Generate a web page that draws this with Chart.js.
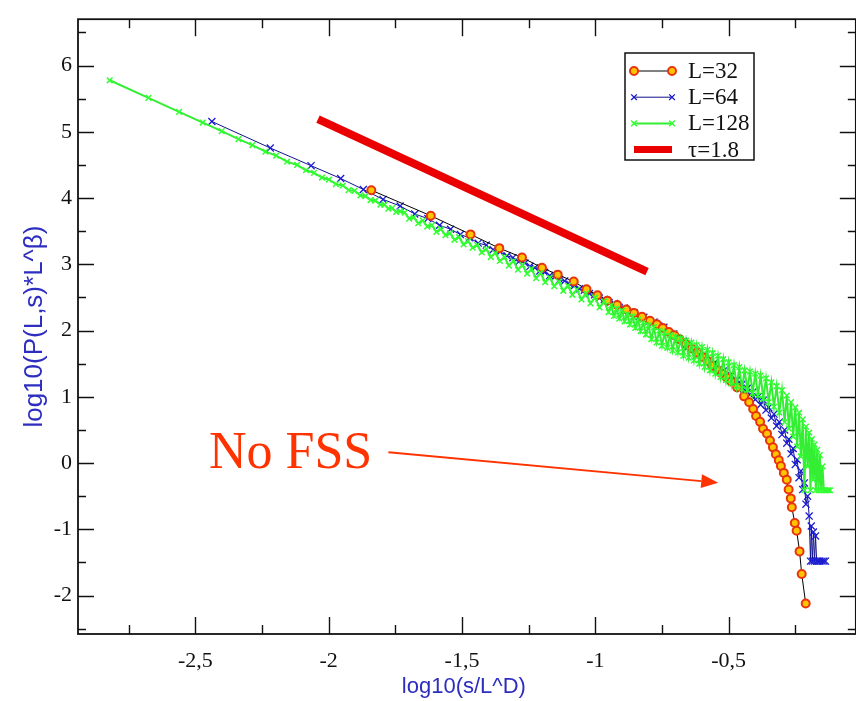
<!DOCTYPE html>
<html>
<head>
<meta charset="utf-8">
<script src="https://cdn.jsdelivr.net/npm/chart.js@4.4.1/dist/chart.umd.min.js"></script>
<style>
  html, body { margin: 0; padding: 0; background: #fff; overflow: hidden; }
</style>
</head>
<body>
<canvas id="chart" width="856" height="701"></canvas>
<script>
// L=32
const l32X = [-1.840, -1.617, -1.468, -1.360, -1.275, -1.200, -1.141, -1.081, -1.033, -0.992,
  -0.955, -0.918, -0.884, -0.855, -0.825, -0.795, -0.769, -0.747, -0.724, -0.704,
  -0.684, -0.661, -0.639, -0.618, -0.598, -0.579, -0.561, -0.542, -0.524, -0.507,
  -0.490, -0.468, -0.442, -0.423, -0.408, -0.397, -0.382, -0.371, -0.356, -0.345,
  -0.334, -0.323, -0.312, -0.304, -0.293, -0.282, -0.275, -0.267, -0.263, -0.252,
  -0.245, -0.234, -0.226, -0.211]
const l32Y = [4.119, 3.733, 3.452, 3.244, 3.104, 2.948, 2.844, 2.741, 2.622, 2.533,
  2.452, 2.385, 2.319, 2.267, 2.207, 2.148, 2.096, 2.037, 1.978, 1.93,
  1.87, 1.80, 1.73, 1.67, 1.60, 1.54, 1.47, 1.40, 1.35, 1.29,
  1.230, 1.141, 1.007, 0.919, 0.815, 0.711, 0.622, 0.519, 0.444, 0.341,
  0.237, 0.133, 0.044, -0.044, -0.148, -0.252, -0.400, -0.533, -0.667, -0.904,
  -1.022, -1.333, -1.674, -2.119]

// L=64
const l64X = [-2.438, -2.219, -2.066, -1.955, -1.870, -1.796, -1.732, -1.677, -1.628, -1.584,
  -1.543, -1.506, -1.472, -1.439, -1.409, -1.383, -1.357, -1.331, -1.309, -1.287,
  -1.264, -1.245, -1.227, -1.208, -1.190, -1.171, -1.152, -1.134, -1.115, -1.096,
  -1.078, -1.059, -1.041, -1.022, -1.003, -0.985, -0.966, -0.948, -0.929, -0.910,
  -0.892, -0.873, -0.855, -0.836, -0.818, -0.799, -0.780, -0.762, -0.743, -0.725,
  -0.706, -0.687, -0.669, -0.650, -0.632, -0.613, -0.595, -0.576, -0.557, -0.539,
  -0.520, -0.502,
  -0.490, -0.480, -0.470, -0.460, -0.450, -0.440, -0.430, -0.420, -0.410, -0.400,
  -0.390, -0.380, -0.370, -0.360, -0.350, -0.340, -0.330, -0.320, -0.310, -0.300,
  -0.290, -0.282, -0.274, -0.266, -0.258, -0.250, -0.243, -0.236, -0.229, -0.222,
  -0.216, -0.210, -0.204, -0.198, -0.193, -0.190, -0.186, -0.182, -0.178, -0.174,
  -0.170, -0.165, -0.158, -0.150, -0.143, -0.137]
const l64Y = [5.156, 4.756, 4.489, 4.296, 4.13, 3.98, 3.88, 3.76, 3.69, 3.59,
  3.53, 3.45, 3.40, 3.32, 3.29, 3.22, 3.19, 3.13, 3.10, 3.04,
  3.02, 2.97, 2.95, 2.90, 2.88, 2.83, 2.81, 2.77, 2.75, 2.70,
  2.68, 2.63, 2.61, 2.56, 2.54, 2.49, 2.47, 2.42, 2.41, 2.35,
  2.34, 2.28, 2.27, 2.21, 2.20, 2.14, 2.13, 2.07, 2.05, 1.97,
  1.95, 1.87, 1.84, 1.76, 1.73, 1.65, 1.62, 1.54, 1.50, 1.41,
  1.39, 1.31,
  1.32, 1.24, 1.25, 1.17, 1.19, 1.10, 1.13, 1.03, 1.07, 0.96,
  1.00, 0.88, 0.95, 0.80, 0.84, 0.68, 0.74, 0.56, 0.62, 0.43,
  0.50, 0.30, 0.36, 0.14, 0.22, -0.02, 0.05, -0.22, -0.12, -0.40,
  -0.30, -0.62, -0.50, -0.80, -1.48, -0.95, -1.48, -1.04, -1.48, -1.10,
  -1.48, -1.48, -1.48, -1.48, -1.48, -1.48]

// L=128
const l128X = [-2.821, -2.676, -2.561, -2.472, -2.401, -2.338, -2.286, -2.237, -2.197, -2.156,
  -2.118, -2.085, -2.055, -2.025, -1.999, -1.973, -1.947, -1.925, -1.903, -1.881,
  -1.862, -1.843, -1.825, -1.806, -1.791, -1.776, -1.762, -1.747, -1.732,
  -1.715, -1.698, -1.681, -1.664, -1.647, -1.630, -1.613, -1.596, -1.579, -1.562,
  -1.545, -1.528, -1.511, -1.494, -1.477, -1.460, -1.443, -1.426, -1.409, -1.392,
  -1.375, -1.358, -1.341, -1.324, -1.307, -1.290, -1.273, -1.256, -1.239, -1.222,
  -1.205, -1.188, -1.171, -1.154, -1.137, -1.120, -1.103, -1.086, -1.069, -1.052,
  -1.035, -1.018, -1.001, -0.984, -0.967, -0.950,
  -0.94, -0.93, -0.92, -0.91, -0.90, -0.89, -0.88, -0.87, -0.86, -0.85,
  -0.84, -0.83, -0.82, -0.81, -0.80, -0.79, -0.78, -0.77, -0.76, -0.75,
  -0.74, -0.73, -0.72, -0.71, -0.70, -0.69, -0.68, -0.67, -0.66, -0.65,
  -0.64, -0.63, -0.62, -0.61, -0.60, -0.59, -0.58, -0.57, -0.56, -0.55,
  -0.54, -0.53, -0.52, -0.51, -0.50, -0.49, -0.48, -0.47, -0.46, -0.45,
  -0.44, -0.43, -0.42, -0.41, -0.40, -0.39, -0.38, -0.37, -0.36, -0.35,
  -0.34, -0.33, -0.32, -0.31, -0.30, -0.29, -0.282, -0.274, -0.266, -0.258,
  -0.250, -0.243, -0.236, -0.229, -0.222, -0.216, -0.210, -0.204, -0.198, -0.193,
  -0.188, -0.183, -0.178, -0.173, -0.168, -0.163, -0.158, -0.153, -0.148, -0.143,
  -0.138, -0.132, -0.126, -0.120]
const l128Y = [5.778, 5.513, 5.30, 5.14, 5.01, 4.89, 4.80, 4.70, 4.64, 4.55,
  4.50, 4.42, 4.38, 4.31, 4.28, 4.21, 4.19, 4.12, 4.11, 4.04,
  4.03, 3.97, 3.96, 3.90, 3.90, 3.84, 3.85, 3.79, 3.80,
  3.78, 3.69, 3.71, 3.62, 3.66, 3.57, 3.59, 3.49, 3.53, 3.44,
  3.47, 3.37, 3.41, 3.30, 3.35, 3.25, 3.29, 3.18, 3.23, 3.11,
  3.17, 3.05, 3.11, 2.98, 3.05, 2.92, 2.99, 2.86, 2.93, 2.79,
  2.87, 2.73, 2.80, 2.67, 2.74, 2.60, 2.68, 2.54, 2.62, 2.47,
  2.56, 2.41, 2.50, 2.35, 2.44, 2.28,
  2.38, 2.22, 2.33, 2.18, 2.30, 2.14, 2.25, 2.09, 2.21, 2.04,
  2.16, 1.99, 2.12, 1.94, 2.08, 1.87, 2.05, 1.82, 2.00, 1.77,
  1.97, 1.74, 1.93, 1.70, 1.91, 1.67, 1.88, 1.62, 1.85, 1.59,
  1.82, 1.55, 1.78, 1.50, 1.75, 1.45, 1.71, 1.40, 1.66, 1.35,
  1.62, 1.30, 1.57, 1.25, 1.52, 1.20, 1.48, 1.16, 1.45, 1.12,
  1.40, 1.10, 1.38, 1.06, 1.35, 1.02, 1.32, 0.97, 1.28, 0.92,
  1.22, 0.85, 1.16, 0.76, 1.10, 0.62, 1.02, 0.52, 0.92, 0.40,
  0.84, 0.25, 0.76, 0.10, 0.66, -0.41, 0.55, -0.05, 0.46, -0.41,
  0.36, -0.25, 0.28, -0.41, 0.20, -0.41, 0.12, -0.41, -0.05, -0.41,
  -0.41, -0.41, -0.41, -0.41]

// tau = 1.8 reference line
const tauX = [-2.040, -0.806]
const tauY = [5.19, 2.89]

const xTicks      = [-2.5, -2, -1.5, -1, -0.5]
const xMinorTicks = [-2.75, -2.25, -1.75, -1.25, -0.75, -0.25]
const yTicks      = [-2, -1, 0, 1, 2, 3, 4, 5, 6]
const yMinorTicks = [-2.5, -1.5, -0.5, 0.5, 1.5, 2.5, 3.5, 4.5, 5.5, 6.5]

// right edge of the plot frame sits just past the visible x range
const frameRight = -0.023

const noteText  = "No FSS"
const notePos   = { x: -2.449, y: -0.074 }
const arrowFrom = { x: -1.776, y: 0.163 }
const arrowTo   = { x: -0.539, y: -0.296 }

const pts = (xs, ys) => xs.map((x, i) => ({ x, y: ys[i] }))

const serif = "'Liberation Serif', 'Times New Roman', serif"
const sans  = "'Liberation Sans', Arial, sans-serif"
const axisBlue = "#2d2dc0"
const ink = "#111"

const frameTicks = {
  id: "frameTicks",
  beforeDatasetsDraw(chart) {
    const { ctx, chartArea: a, scales: { x, y } } = chart
    const right = x.getPixelForValue(frameRight)
    ctx.save()
    ctx.strokeStyle = ink
    ctx.lineWidth = 1.8
    ctx.strokeRect(a.left, a.top, right - a.left, a.bottom - a.top)
    ctx.lineWidth = 1.4
    ctx.beginPath()
    const xt = (vals, len) => vals.forEach(v => {
      const px = Math.round(x.getPixelForValue(v)) + 0.5
      ctx.moveTo(px, a.bottom); ctx.lineTo(px, a.bottom - len)
      ctx.moveTo(px, a.top);    ctx.lineTo(px, a.top + len)
    })
    const yt = (vals, len) => vals.forEach(v => {
      const py = Math.round(y.getPixelForValue(v)) + 0.5
      ctx.moveTo(a.left, py); ctx.lineTo(a.left + len, py)
      ctx.moveTo(right, py);  ctx.lineTo(right - len, py)
    })
    xt(xTicks, 17); xt(xMinorTicks, 9)
    yt(yTicks, 16); yt(yMinorTicks, 8)
    ctx.stroke()
    ctx.restore()
  }
}

const annotate = {
  id: "annotate",
  afterDraw(chart) {
    const { ctx, scales: { x, y } } = chart
    ctx.save()
    ctx.fillStyle = "#ff3300"
    ctx.strokeStyle = "#ff3300"
    ctx.font = `52px ${serif}`
    ctx.textBaseline = "alphabetic"
    ctx.fillText(noteText, x.getPixelForValue(notePos.x), y.getPixelForValue(notePos.y))

    const x0 = x.getPixelForValue(arrowFrom.x), y0 = y.getPixelForValue(arrowFrom.y)
    const x1 = x.getPixelForValue(arrowTo.x),   y1 = y.getPixelForValue(arrowTo.y)
    const ang = Math.atan2(y1 - y0, x1 - x0)
    const hl = 17, hw = 7
    const bx = x1 - hl * Math.cos(ang), by = y1 - hl * Math.sin(ang)
    ctx.lineWidth = 2
    ctx.beginPath(); ctx.moveTo(x0, y0); ctx.lineTo(bx, by); ctx.stroke()
    ctx.beginPath()
    ctx.moveTo(x1, y1)
    ctx.lineTo(bx + hw * Math.sin(ang), by - hw * Math.cos(ang))
    ctx.lineTo(bx - hw * Math.sin(ang), by + hw * Math.cos(ang))
    ctx.closePath(); ctx.fill()
    ctx.restore()
  }
}

const legendBox = {
  id: "legendBox",
  afterDraw(chart) {
    const ctx = chart.ctx
    const bx = 625, by = 53, bw = 129, bh = 107
    ctx.save()
    ctx.fillStyle = "#fff"
    ctx.fillRect(bx, by, bw, bh)
    ctx.strokeStyle = ink
    ctx.lineWidth = 1.5
    ctx.strokeRect(bx, by, bw, bh)
    chart.data.datasets.forEach((ds, i) => {
      const yy = 71 + i * 26.2
      ctx.strokeStyle = ds.borderColor
      ctx.lineWidth = Math.min(ds.borderWidth, 7)
      ctx.lineCap = "butt"
      ctx.beginPath(); ctx.moveTo(634, yy); ctx.lineTo(672, yy); ctx.stroke()
      if (ds.pointRadius > 0) {
        ;[634, 672].forEach(px => {
          ctx.fillStyle = ds.pointBackgroundColor
          ctx.strokeStyle = ds.pointBorderColor
          ctx.lineWidth = ds.pointBorderWidth
          Chart.helpers.drawPoint(ctx, { pointStyle: ds.pointStyle, radius: Math.min(ds.pointRadius, 4), borderWidth: ds.pointBorderWidth, rotation: 0 }, px, yy)
        })
      }
      ctx.fillStyle = ink
      ctx.font = `23px ${serif}`
      ctx.textBaseline = "middle"
      ctx.fillText(ds.label, 688, yy + 1)
    })
    ctx.restore()
  }
}

new Chart(document.getElementById("chart"), {
  type: "scatter",
  data: {
    datasets: [
      {
        label: "L=32",
        data: pts(l32X, l32Y),
        showLine: true,
        borderColor: "#000",
        borderWidth: 1,
        pointStyle: "circle",
        pointRadius: 4,
        pointBackgroundColor: "#ffc400",
        pointBorderColor: "#e8340c",
        pointBorderWidth: 2,
        order: 1
      },
      {
        label: "L=64",
        data: pts(l64X, l64Y),
        showLine: true,
        borderColor: "#12128a",
        borderWidth: 1,
        pointStyle: "crossRot",
        pointRadius: 5,
        pointBackgroundColor: "#1c1cd0",
        pointBorderColor: "#1c1cd0",
        pointBorderWidth: 1.3,
        order: 2
      },
      {
        label: "L=128",
        data: pts(l128X, l128Y),
        showLine: true,
        borderColor: "#33ee33",
        borderWidth: 2,
        pointStyle: "crossRot",
        pointRadius: 4,
        pointBackgroundColor: "#30ff30",
        pointBorderColor: "#30ff30",
        pointBorderWidth: 1.5,
        order: 0
      },
      {
        label: "τ=1.8",
        data: pts(tauX, tauY),
        showLine: true,
        borderColor: "#ea0000",
        borderWidth: 8,
        pointRadius: 0,
        order: 3
      }
    ]
  },
  options: {
    responsive: false,
    animation: false,
    layout: { padding: { left: 0, top: 8, right: 0, bottom: 0 } },
    plugins: {
      legend: { display: false },
      tooltip: { enabled: false }
    },
    elements: { line: { tension: 0 } },
    scales: {
      x: {
        type: "linear",
        min: -2.94,
        max: -0.046,
        afterFit: s => { s.height = 67 },
        afterBuildTicks: s => { s.ticks = xTicks.map(v => ({ value: v })) },
        grid: { display: false, drawTicks: false },
        border: { display: false },
        ticks: {
          color: ink,
          font: { family: serif, size: 22 },
          padding: 14,
          maxRotation: 0,
          autoSkip: false,
          callback: v => String(v).replace(".", ",")
        },
        title: {
          display: true,
          text: "log10(s/L^D)",
          color: axisBlue,
          font: { family: sans, size: 22 },
          padding: { top: 0, bottom: 1 }
        }
      },
      y: {
        type: "linear",
        min: -2.58,
        max: 6.7,
        afterFit: s => { s.width = 78 },
        afterBuildTicks: s => { s.ticks = yTicks.map(v => ({ value: v })) },
        grid: { display: false, drawTicks: false },
        border: { display: false },
        ticks: {
          color: ink,
          font: { family: serif, size: 22 },
          padding: 6,
          autoSkip: false
        },
        title: {
          display: true,
          text: "log10(P(L,s)*L^β)",
          color: axisBlue,
          font: { family: sans, size: 26 },
          padding: { top: 19, bottom: 0 }
        }
      }
    }
  },
  plugins: [frameTicks, annotate, legendBox]
})
</script>
